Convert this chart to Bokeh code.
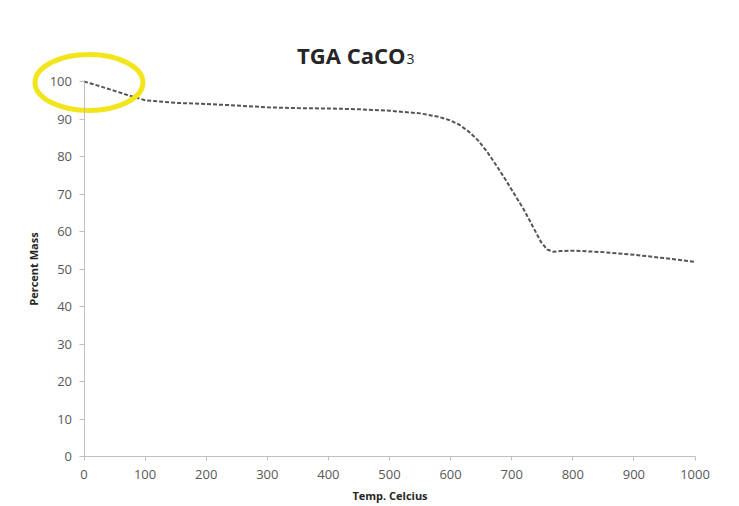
from bokeh.plotting import figure
from bokeh.models import Range1d, FixedTicker, Label
from bokeh.embed import file_html
from bokeh.resources import INLINE

# ---- data ----
temp = [0, 25, 50, 75, 100, 150, 200, 250, 300, 350, 400, 450, 500, 550,
        580, 600, 615, 630, 645, 660, 675, 690, 705, 720, 735, 748, 758,
        768, 780, 800, 850, 900, 950, 1000]
mass = [100.0, 98.8, 97.5, 96.2, 95.0, 94.3, 94.0, 93.6, 93.1, 92.9, 92.8,
        92.6, 92.2, 91.5, 90.6, 89.6, 88.4, 86.6, 84.3, 81.2, 77.6, 73.8,
        69.8, 65.8, 61.2, 57.2, 55.2, 54.6, 54.8, 54.9, 54.5, 53.8, 52.9, 51.9]
x_ticks = list(range(0, 1001, 100))
y_ticks = list(range(0, 101, 10))
title_main = "TGA CaCO"
title_sub = "3"
x_label = "Temp. Celcius"
y_label = "Percent Mass"

# ---- pixel mapping (frame covers whole canvas) ----
W, H = 739, 506
X0PX, XSC = 83.5, 0.611      # px of x=0, px per unit
Y0PX, YSC = 456.0, 3.75      # px of y=0, px per unit
xr = Range1d(-X0PX / XSC, (W - X0PX) / XSC)
yr = Range1d(-(H - Y0PX) / YSC, Y0PX / YSC)

def dx(px):
    return (px - X0PX) / XSC

def dy(py):
    return (Y0PX - py) / YSC

p = figure(width=W, height=H, x_range=xr, y_range=yr, min_border=0,
           toolbar_location=None, output_backend="svg")
p.outline_line_color = None
p.grid.visible = False
p.background_fill_color = "white"
p.border_fill_color = "white"

FONT = "Open Sans"
AX_COL = "#bfbfbf"
TICK_COL = "#595959"

xa = p.xaxis[0]
xa.fixed_location = 0
xa.bounds = (0, 1000)
xa.ticker = FixedTicker(ticks=x_ticks)
xa.minor_tick_line_color = None
xa.major_tick_in = 0
xa.major_tick_out = 4
xa.major_label_standoff = 9
xa.axis_line_color = AX_COL
xa.major_tick_line_color = AX_COL
xa.major_label_text_font = FONT
xa.major_label_text_font_size = "13px"
xa.major_label_text_color = TICK_COL
xa.axis_label = x_label
xa.axis_label_text_font = FONT
xa.axis_label_text_font_style = "bold"
xa.axis_label_text_font_size = "11px"
xa.axis_label_text_color = "#262626"
xa.axis_label_standoff = 6

ya = p.yaxis[0]
ya.fixed_location = 0
ya.bounds = (0, 100)
ya.ticker = FixedTicker(ticks=y_ticks)
ya.minor_tick_line_color = None
ya.major_tick_in = 0
ya.major_tick_out = 5
ya.major_label_standoff = 7
ya.axis_line_color = AX_COL
ya.major_tick_line_color = AX_COL
ya.major_label_text_font = FONT
ya.major_label_text_font_size = "13px"
ya.major_label_text_color = TICK_COL
ya.axis_label = y_label
ya.axis_label_text_font = FONT
ya.axis_label_text_font_style = "bold"
ya.axis_label_text_font_size = "11px"
ya.axis_label_text_color = "#262626"
ya.axis_label_standoff = 6

p.line(temp, mass, line_color="#555555", line_width=2, line_dash="4 2")

# yellow highlight ellipse
p.ellipse(x=dx(88.5), y=dy(82), width=108 / XSC, height=56 / YSC,
          fill_color=None, line_color="#f2e51b", line_width=5)

# title
p.add_layout(Label(x=dx(405), y=dy(54), text=title_main, text_align="right",
                   text_baseline="alphabetic", text_font=FONT,
                   text_font_style="bold", text_font_size="22px",
                   text_color="#262626"))
p.add_layout(Label(x=dx(406), y=dy(58), text=title_sub, text_align="left",
                   text_baseline="alphabetic", text_font=FONT,
                   text_font_size="14px", text_color="#262626"))

open("out.html", "w").write(file_html(p, INLINE))
